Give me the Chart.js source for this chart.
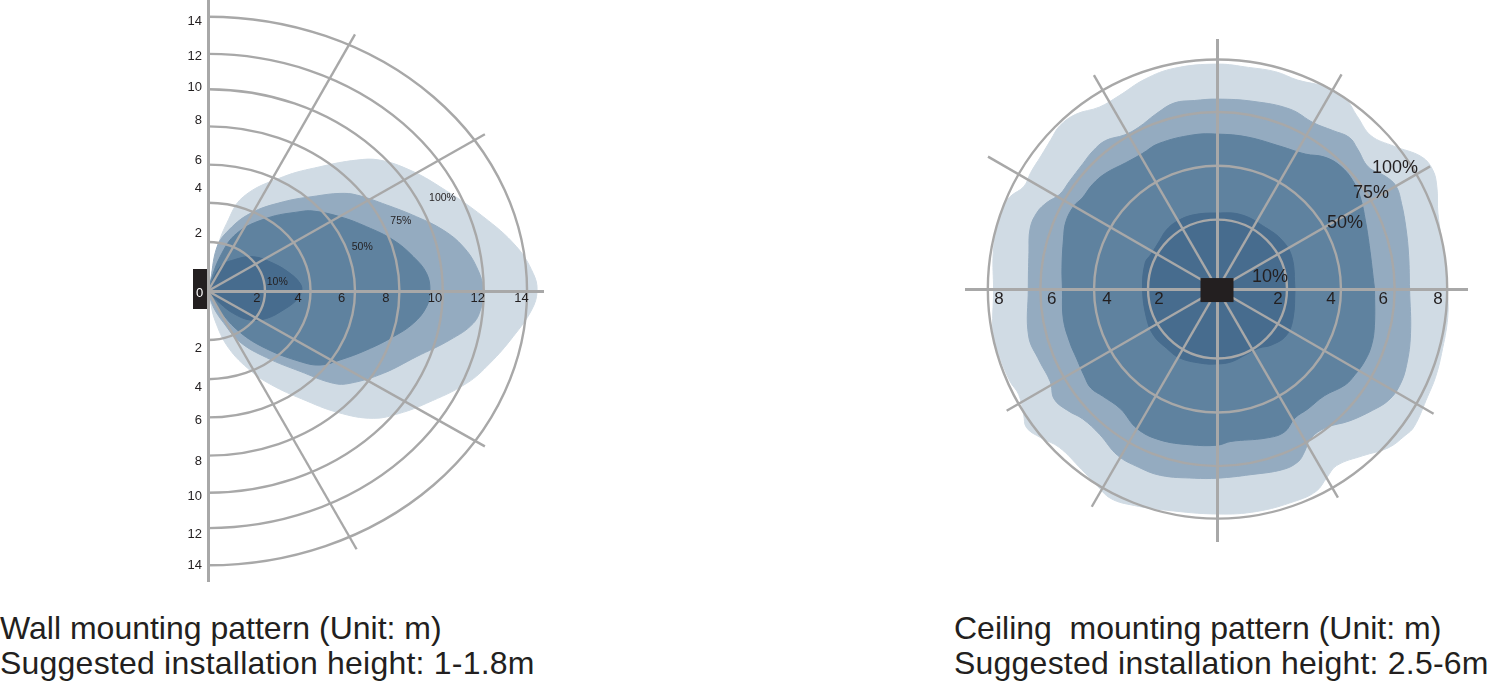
<!DOCTYPE html>
<html>
<head>
<meta charset="utf-8">
<script src="https://cdn.jsdelivr.net/npm/chart.js@4.4.0/dist/chart.umd.min.js"></script>
<style>
  body { margin: 0; background: #fff; width: 1487px; height: 684px; position: relative; overflow: hidden; font-family: 'Liberation Sans', Arial, sans-serif; }
  #wall { position: absolute; left: 0; top: 0; }
  #ceil { position: absolute; left: 950px; top: 30px; }
  .caption { position: absolute; font-size: 32px; line-height: 35px; color: #231f20; white-space: pre; }
  .caption span { letter-spacing: 0.22px; }
</style>
</head>
<body>
<canvas id="wall" width="560" height="590"></canvas>
<canvas id="ceil" width="530" height="520"></canvas>
<div class="caption" style="left:0;top:611px">Wall mounting pattern (Unit: m)
<span>Suggested installation height: 1-1.8m</span></div>
<div class="caption" style="left:954px;top:611px">Ceiling  mounting pattern (Unit: m)
<span>Suggested installation height: 2.5-6m</span></div>
<script>
// ---- wall mounting pattern (side view, metres) ----
const wallTickX = [2.14, 3.95, 5.86, 7.81, 9.96, 11.84, 13.76];
const wallTickXLabels = ['2', '4', '6', '8', '10', '12', '14'];
const wallTickY = [13.74, 11.95, 10.41, 8.72, 6.68, 5.26, 2.96, -2.91, -4.90, -6.63, -8.72, -10.46, -12.40, -14.03];
const wallTickYLabels = ['14', '12', '10', '8', '6', '4', '2', '2', '4', '6', '8', '10', '12', '14'];
const wallRings = [2.5, 4.5, 6.45, 8.4, 10.3, 12.1, 14];

// coverage outlines [x, y]
const wall100 = [[0,0],[0.09,0.39],[0.38,2.09],[0.82,3.45],[1.55,4.81],[3.30,5.83],[4.91,6.34],[6.52,6.68],[7.54,6.68],[8.86,6.17],[10.18,5.32],[12.08,3.79],[13.54,2.26],[14.27,0.90],[14.44,0],[14.20,-0.97],[13.39,-2.33],[12.37,-3.69],[11.35,-4.71],[9.59,-5.73],[8.42,-6.24],[7.25,-6.50],[5.70,-6.20],[4.10,-5.50],[2.80,-4.80],[1.90,-4.10],[0.90,-2.90],[0.30,-1.48],[0.09,-0.46],[0,0]];
const wall75 = [[0,0],[0.09,0.39],[0.38,2.20],[0.82,3.00],[1.84,3.95],[3.30,4.55],[4.77,4.85],[5.79,4.98],[6.52,4.90],[7.84,4.39],[9.15,3.79],[10.32,3.11],[11.20,2.26],[11.78,1.24],[12.11,0],[12.00,-0.80],[11.64,-1.65],[10.61,-2.50],[9.15,-3.35],[7.69,-4.20],[6.23,-4.71],[5.50,-4.71],[4.04,-4.10],[2.57,-3.40],[1.40,-2.60],[0.67,-1.60],[0.23,-0.80],[0,0]];
const wall50 = [[0,0],[0.09,0.39],[0.53,1.75],[1.26,2.94],[2.57,3.71],[4.04,4.05],[4.62,4.08],[5.79,3.79],[6.96,3.28],[8.13,2.60],[9.01,1.75],[9.59,0.90],[9.74,0],[9.59,-0.80],[9.01,-1.65],[8.13,-2.33],[6.96,-3.01],[5.79,-3.52],[4.91,-3.78],[4.04,-3.60],[2.57,-2.95],[1.40,-2.10],[0.53,-1.00],[0,0]];
const wall10 = [[0,0],[0.53,1.24],[1.11,1.58],[1.99,1.75],[2.87,1.41],[3.60,0.90],[4.04,0.39],[4.11,0],[3.89,-0.46],[3.30,-0.97],[2.57,-1.40],[1.84,-1.48],[1.11,-1.14],[0.53,-0.63],[0,0]];

// ---- ceiling mounting pattern (top view, metres) ----
const ceilTickX = [-7.61, -5.77, -3.85, -2.04, 2.11, 3.95, 5.77, 7.68];
const ceilTickXLabels = ['8', '6', '4', '2', '2', '4', '6', '8'];
const ceilRings = [2.42, 4.30, 6.17, 8.00];

// coverage outlines [bearing deg, radius]
const ceil100 = [[0,8.01],[6,7.98],[19,8.12],[25,8.43],[29,8.57],[33,8.47],[39,7.91],[45,7.56],[51,7.74],[56,7.98],[62,7.98],[69,7.80],[75,7.84],[82,7.80],[90,7.84],[101,7.84],[109,7.74],[117,7.56],[123,7.56],[129,7.84],[134,7.91],[138,7.80],[143,7.70],[148,7.67],[152,7.63],[156,7.91],[159,7.98],[164,7.98],[171,7.91],[180,7.80],[192,7.98],[198,7.94],[204,7.91],[208,7.84],[213,8.05],[216,8.22],[220,8.05],[225,7.80],[233,7.87],[238,8.01],[243,8.19],[249,8.08],[257,7.91],[270,7.84],[280,7.87],[290,7.87],[296,7.84],[300,7.60],[304,7.42],[311,7.70],[317,8.12],[322,8.29],[325,8.36],[333,8.22],[338,8.19],[344,8.12],[353,8.08]];
const ceil75 = [[0,6.69],[10,6.76],[18,6.90],[25,7.07],[30,7.18],[34,7.04],[39,6.76],[45,6.90],[49,7.00],[54,6.83],[60,6.69],[68,6.76],[79,6.66],[90,6.62],[97,6.62],[103,6.66],[109,6.48],[116,6.27],[121,6.27],[127,6.48],[132,6.48],[137,6.41],[144,6.38],[149,6.41],[153,6.66],[157,6.83],[162,6.86],[169,6.69],[180,6.59],[194,6.78],[202,6.69],[209,6.66],[214,6.86],[219,6.72],[224,6.52],[231,6.52],[239,6.76],[246,6.79],[253,6.79],[263,6.64],[270,6.59],[280,6.57],[290,6.69],[295,6.64],[298,6.44],[302,6.13],[308,6.13],[315,6.50],[322,6.86],[327,7.11],[332,7.18],[338,7.10],[347,6.90]];
const ceil50 = [[0,5.47],[16,5.50],[25,5.68],[32,5.89],[38,6.03],[45,6.06],[51,5.92],[57,5.61],[66,5.44],[79,5.40],[90,5.40],[99,5.44],[112,5.47],[119,5.40],[126,5.44],[134,5.61],[140,5.68],[146,5.68],[150,5.78],[156,5.78],[162,5.64],[172,5.47],[180,5.40],[191,5.47],[200,5.47],[206,5.47],[213,5.54],[218,5.60],[223,5.47],[231,5.37],[240,5.61],[249,5.63],[260,5.51],[270,5.44],[275,5.33],[288,5.46],[295,5.50],[301,5.24],[307,5.23],[315,5.26],[323,5.56],[328,5.64],[334,5.71],[340,5.71],[347,5.61]];
const ceil10 = [[0,2.70],[23,2.82],[37,2.82],[52,2.72],[72,2.72],[90,2.65],[108,2.72],[121,2.75],[131,2.72],[140,2.63],[152,2.61],[160,2.68],[180,2.61],[202,2.67],[216,2.75],[229,2.72],[241,2.74],[257,2.65],[270,2.61],[281,2.58],[293,2.49],[305,2.51],[314,2.71],[326,2.89],[339,2.82]];

const INK = '#231f20';
const GRID = '#a8a8a8';
const FONT = "'Liberation Sans', Arial, sans-serif";
const C100 = '#d0dbe4', C75 = '#94abc0', C50 = '#5f829f', C10 = '#476c8e';

const toXY = pts => pts.map(([x, y]) => ({ x, y }));
const fromPolar = pts => pts.concat([pts[0]]).map(([a, r]) => ({
    x: r * Math.cos(a * Math.PI / 180),
    y: r * Math.sin(a * Math.PI / 180)
}));

function zone(label, data, color) {
    return {
        label, data, showLine: true, fill: 'shape', tension: 0.4,
        backgroundColor: color, borderColor: color, borderWidth: 1,
        pointRadius: 0, pointHoverRadius: 0
    };
}

// rings, spokes, percent tags and the fixture block, drawn through the chart scales
function polarGrid(cfg) {
    return {
        id: 'polarGrid',
        afterDatasetsDraw(chart) {
            const { ctx, scales: { x, y } } = chart;
            const cx = x.getPixelForValue(0), cy = y.getPixelForValue(0);
            ctx.save();
            ctx.strokeStyle = GRID;
            ctx.lineWidth = 2.4;
            cfg.rings.forEach(r => {
                const rx = x.getPixelForValue(r) - cx;
                const ry = cy - y.getPixelForValue(r);
                ctx.beginPath();
                ctx.ellipse(cx, cy, rx, ry, 0, cfg.arcFrom, cfg.arcTo);
                ctx.stroke();
            });
            cfg.spokes.forEach(([sx, sy]) => {
                ctx.beginPath();
                ctx.moveTo(cx, cy);
                ctx.lineTo(x.getPixelForValue(sx), y.getPixelForValue(sy));
                ctx.stroke();
            });
            ctx.restore();
        },
        afterDraw(chart) {
            const { ctx, scales: { x, y } } = chart;
            const cx = x.getPixelForValue(0), cy = y.getPixelForValue(0);
            ctx.save();
            ctx.fillStyle = INK;
            ctx.font = cfg.tagSize + 'px ' + FONT;
            ctx.textAlign = 'center';
            ctx.textBaseline = 'middle';
            cfg.tags.forEach(([t, tx, ty]) => ctx.fillText(t, x.getPixelForValue(tx), y.getPixelForValue(ty)));
            const b = cfg.box;
            ctx.fillRect(cx + b.dx, cy + b.dy, b.w, b.h);
            if (b.text) {
                ctx.fillStyle = '#fff';
                ctx.font = '13px ' + FONT;
                ctx.fillText(b.text, cx + b.dx + b.w / 2 - 0.5, cy + 2.5);
            }
            ctx.restore();
        }
    };
}

function fixedTicks(values) {
    return scale => { scale.ticks = values.map(v => ({ value: v })); };
}

// keep the axes from eating into the plot area
function noRoom(w, h) {
    return s => {
        if (w !== null) s.width = w;
        if (h !== null) s.height = h;
        s.paddingLeft = s.paddingRight = s.paddingTop = s.paddingBottom = 0;
    };
}

const axisBorder = { display: true, color: GRID, width: 3, z: 1 };

// wall chart
new Chart(document.getElementById('wall'), {
    type: 'scatter',
    data: {
        datasets: [
            zone('10%', toXY(wall10), C10),
            zone('50%', toXY(wall50), C50),
            zone('75%', toXY(wall75), C75),
            zone('100%', toXY(wall100), C100)
        ]
    },
    options: {
        responsive: false,
        animation: false,
        events: [],
        layout: { autoPadding: false, padding: { left: 0, top: 1, right: 17, bottom: 9 } },
        plugins: { legend: { display: false }, tooltip: { enabled: false } },
        scales: {
            x: {
                type: 'linear', min: 0, max: 14.7, position: { y: 0 },
                afterFit: noRoom(null, 0),
                afterBuildTicks: fixedTicks(wallTickX),
                grid: { display: false, drawTicks: false },
                border: axisBorder,
                ticks: {
                    callback: (v, i) => wallTickXLabels[i],
                    color: INK, font: { family: FONT, size: 13 },
                    padding: 0, maxRotation: 0, autoSkip: false, z: 1
                }
            },
            y: {
                type: 'linear', min: -14.8, max: 14.8, position: 'left',
                afterFit: noRoom(208, null),
                afterBuildTicks: fixedTicks(wallTickY),
                grid: { display: false, drawTicks: false },
                border: axisBorder,
                ticks: {
                    callback: (v, i) => wallTickYLabels[i],
                    color: INK, font: { family: FONT, size: 13 },
                    padding: 6, autoSkip: false, z: 1
                }
            }
        }
    },
    plugins: [polarGrid({
        rings: wallRings,
        arcFrom: -Math.PI / 2, arcTo: Math.PI / 2,
        spokes: [[6.45, 13.1], [12.15, 8.0], [12.15, -7.93], [6.52, -13.18]],
        tags: [['10%', 3.04, 0.44], ['50%', 6.77, 2.26], ['75%', 8.46, 3.57], ['100%', 10.29, 4.73]],
        tagSize: 10.5,
        box: { dx: -15, dy: -22, w: 14, h: 40, text: '0' }
    })]
});

// ceiling chart
const ceilSpokes = [[30, 8.55], [60, 8.64], [120, 8.61], [150, 9.23], [210, 8.48], [240, 8.76], [300, 8.39], [330, 8.69]]
    .map(([a, r]) => [r * Math.cos(a * Math.PI / 180), r * Math.sin(a * Math.PI / 180)]);

new Chart(document.getElementById('ceil'), {
    type: 'scatter',
    data: {
        datasets: [
            zone('10%', fromPolar(ceil10), C10),
            zone('50%', fromPolar(ceil50), C50),
            zone('75%', fromPolar(ceil75), C75),
            zone('100%', fromPolar(ceil100), C100)
        ]
    },
    options: {
        responsive: false,
        animation: false,
        events: [],
        layout: { autoPadding: false, padding: { left: 16, top: 10, right: 13, bottom: 9 } },
        plugins: { legend: { display: false }, tooltip: { enabled: false } },
        scales: {
            x: {
                type: 'linear', min: -8.76, max: 8.69, position: { y: 0 },
                afterFit: noRoom(null, 0),
                afterBuildTicks: fixedTicks(ceilTickX),
                grid: { display: false, drawTicks: false },
                border: axisBorder,
                ticks: {
                    callback: (v, i) => ceilTickXLabels[i],
                    color: INK, font: { family: FONT, size: 17 },
                    padding: 0, maxRotation: 0, autoSkip: false, z: 1
                }
            },
            y: {
                type: 'linear', min: -8.78, max: 8.68, position: { x: 0 },
                afterFit: noRoom(0, null),
                grid: { display: false, drawTicks: false },
                border: axisBorder,
                ticks: { display: false }
            }
        }
    },
    plugins: [polarGrid({
        rings: ceilRings,
        arcFrom: 0, arcTo: Math.PI * 2,
        spokes: ceilSpokes,
        tags: [['100%', 6.18, 4.23], ['75%', 5.35, 3.36], ['50%', 4.44, 2.31], ['10%', 1.83, 0.43]],
        tagSize: 18,
        box: { dx: -17, dy: -11, w: 33, h: 24 }
    })]
});
</script>
</body>
</html>
